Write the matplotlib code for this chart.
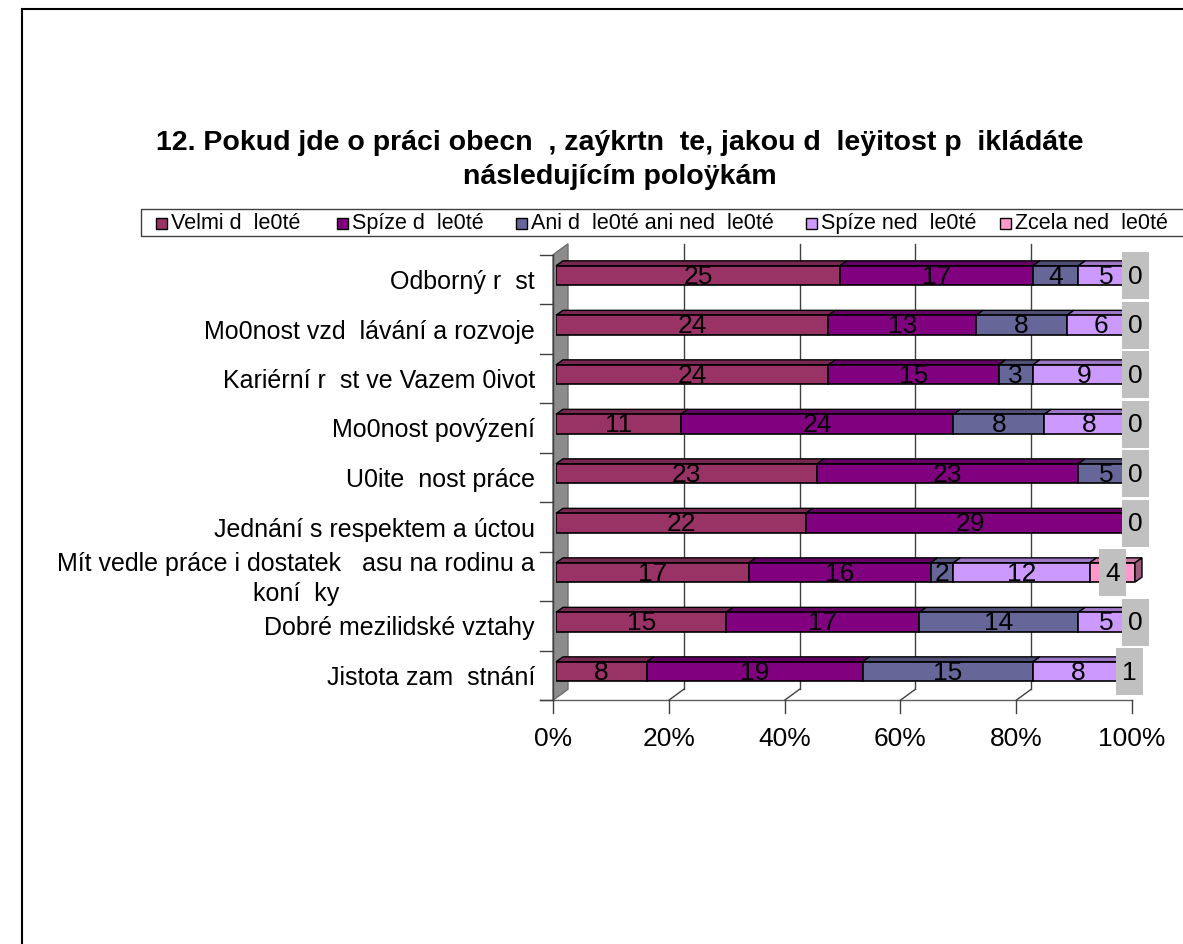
import matplotlib
matplotlib.use("Agg")
import matplotlib.pyplot as plt
from matplotlib.patches import Polygon, Rectangle
from matplotlib.lines import Line2D
import numpy as np

plt.rcParams['font.family'] = ['Liberation Sans', 'DejaVu Sans']

# ---------------- data ----------------
categories = [
    "Odborný r  st",
    "Mo0nost vzd  lávání a rozvoje",
    "Kariérní r  st ve Vazem 0ivot",
    "Mo0nost povýzení",
    "U0ite  nost práce",
    "Jednání s respektem a úctou",
    "Mít vedle práce i dostatek   asu na rodinu a\nkoní  ky",
    "Dobré mezilidské vztahy",
    "Jistota zam  stnání",
]
series_names = [
    "Velmi d  le0té",
    "Spíze d  le0té",
    "Ani d  le0té ani ned  le0té",
    "Spíze ned  le0té",
    "Zcela ned  le0té",
]
velmi     = [25, 24, 24, 11, 23, 22, 17, 15, 8]
spize_d   = [17, 13, 15, 24, 23, 29, 16, 17, 19]
ani       = [4, 8, 3, 8, 5, 0, 2, 14, 15]
spize_ned = [5, 6, 9, 8, 0, 0, 12, 5, 8]
zcela     = [0, 0, 0, 0, 0, 0, 4, 0, 1]
colors = ["#993366", "#800080", "#666699", "#CC99FF", "#FF99CC"]
tick_values = [0, 20, 40, 60, 80, 100]
tick_labels = ["0%", "20%", "40%", "60%", "80%", "100%"]
title = ("12. Pokud jde o práci obecn  , zaýkrtn  te, jakou d  leÿitost p  ikládáte\n"
         "následujícím poloÿkám")

# ---------------- figure ----------------
W, H = 1183, 944
fig = plt.figure(figsize=(W / 100, H / 100), dpi=100)

def fx(x):
    return x / W

def fy(y):
    return 1 - y / H

# outer frame
fig.add_artist(Line2D([fx(21.5), fx(21.5)], [fy(8.5), fy(950)], color="black", lw=1.5))
fig.add_artist(Line2D([fx(21.5), fx(1190)], [fy(8.5), fy(8.5)], color="black", lw=1.5))

# title
fig.text(fx(620), fy(160), title, ha="center", va="center", fontsize=20.5,
         fontweight="bold", linespacing=1.45)

# legend (manual)
fig.add_artist(Rectangle((fx(141), fy(236)), fx(1200) - fx(141), fy(209) - fy(236),
                         transform=fig.transFigure, fill=False, edgecolor="#404040", lw=1))
leg_x = [156, 337, 516, 806, 1000]
for name, c, lx in zip(series_names, colors, leg_x):
    fig.add_artist(Rectangle((fx(lx), fy(229)), fx(11), fy(218) - fy(229),
                             transform=fig.transFigure, facecolor=c, edgecolor="black", lw=1))
    fig.text(fx(lx + 15), fy(223.5), name, ha="left", va="center", fontsize=15.5)

# plot axes: bars' front plane, x 0..100 -> px 556..1135, rows 0..8
ax_left, ax_right = 556, 1135
row0 = 275.5
rowh = 49.5
ax = fig.add_axes([fx(ax_left), fy(row0 + 8.5 * rowh), fx(ax_right - ax_left),
                   (8.5 + 0.5) * rowh / H])
ax.set_xlim(0, 100)
ax.set_ylim(8.5, -0.5)
ax.axis("off")

ppx = (ax_right - ax_left) / 100.0
ppy = rowh
# 3D offsets
dxb, dyb = 7 / ppx, -5 / ppy          # bar depth
fx0, fy0 = -3 / ppx, 4 / ppy          # front plane
bx0, by0 = 12 / ppx, -7 / ppy         # back plane

# wall
wall = Polygon([(fx0, -0.5 + fy0), (bx0, -0.5 + by0), (bx0, 8.5 + by0), (fx0, 8.5 + fy0)],
               closed=True, facecolor="#8c8c8c", edgecolor="#707070", lw=1, clip_on=False, zorder=1)
ax.add_patch(wall)
ax.plot([fx0, fx0], [-0.5 + fy0, 8.5 + fy0], color="#404040", lw=1, clip_on=False, zorder=2)

# gridlines on back plane and floor connectors
for v in tick_values[1:-1]:
    ax.plot([v + bx0, v + bx0], [-0.5 + by0, 8.5 + by0], color="#404040", lw=1,
            clip_on=False, zorder=1)
    ax.plot([v + fx0, v + bx0], [8.5 + fy0, 8.5 + by0], color="#404040", lw=1,
            clip_on=False, zorder=1)
# floor front line and ticks
ax.plot([fx0 - 13 / ppx, 100 + fx0], [8.5 + fy0, 8.5 + fy0], color="#606060", lw=1,
        clip_on=False, zorder=1)
for v, lab in zip(tick_values, tick_labels):
    ax.plot([v + fx0, v + fx0], [8.5 + fy0, 8.5 + fy0 + 13 / ppy], color="#404040", lw=1,
            clip_on=False, zorder=1)
    ax.text(v + fx0, 8.5 + fy0 + 39 / ppy, lab, ha="center", va="center", fontsize=19)

# category ticks and labels
for k in range(len(categories) + 1):
    yk = k - 0.5 + fy0
    ax.plot([fx0 - 13 / ppx, fx0], [yk, yk], color="#404040", lw=1, clip_on=False, zorder=2)
y_pos = np.arange(len(categories))
for i, cat in enumerate(categories):
    ax.text(fx0 - 18 / ppx, i + 6.5 / ppy, cat, ha="right", va="center", fontsize=18,
            multialignment="center", linespacing=1.3)

# bars
data = [velmi, spize_d, ani, spize_ned, zcela]
bh = 0.39

def darker(c, f=0.78):
    r, g, b = matplotlib.colors.to_rgb(c)
    return (r * f, g * f, b * f)

totals = np.sum(np.array(data, dtype=float), axis=0)
left = np.zeros(len(categories))
segments = []
for s, (vals, c) in enumerate(zip(data, colors)):
    pct = np.array(vals, dtype=float) / totals * 100
    ax.barh(y_pos, pct, left=left, height=bh, color=c, edgecolor="black", lw=1.2, zorder=4)
    for i in range(len(categories)):
        x0, x1 = left[i], left[i] + pct[i]
        if pct[i] > 0:
            yt = i - bh / 2
            top = Polygon([(x0, yt), (x1, yt), (x1 + dxb, yt + dyb), (x0 + dxb, yt + dyb)],
                          closed=True, facecolor=darker(c), edgecolor="black", lw=1,
                          clip_on=False, zorder=3)
            ax.add_patch(top)
        segments.append((s, i, x0, x1, vals[i], c))
    left += pct

# right faces for last nonzero segment in each row
for i in range(len(categories)):
    last = [seg for seg in segments if seg[1] == i and seg[4] > 0][-1]
    x1, c = last[3], last[5]
    yt, yb = i - bh / 2, i + bh / 2
    side = Polygon([(x1, yt), (x1 + dxb, yt + dyb), (x1 + dxb, yb + dyb), (x1, yb)],
                   closed=True, facecolor=darker(c, 0.6), edgecolor="black", lw=1,
                   clip_on=False, zorder=4)
    ax.add_patch(side)

# data labels
bw, bhh = 27 / ppx, 47 / ppy
for s, i, x0, x1, v, c in segments:
    xc = (x0 + x1) / 2
    if s < len(data) - 1:
        if v > 0:
            ax.text(xc, i + 0.03, str(v), ha="center", va="center", fontsize=19, zorder=6)
    else:
        ax.add_patch(Rectangle((xc - bw / 2, i - bhh / 2), bw, bhh, facecolor="#C0C0C0",
                               edgecolor="none", clip_on=False, zorder=5))
        ax.text(xc, i + 0.03, str(v), ha="center", va="center", fontsize=19, zorder=6)

fig.savefig("out.png", dpi=100)
